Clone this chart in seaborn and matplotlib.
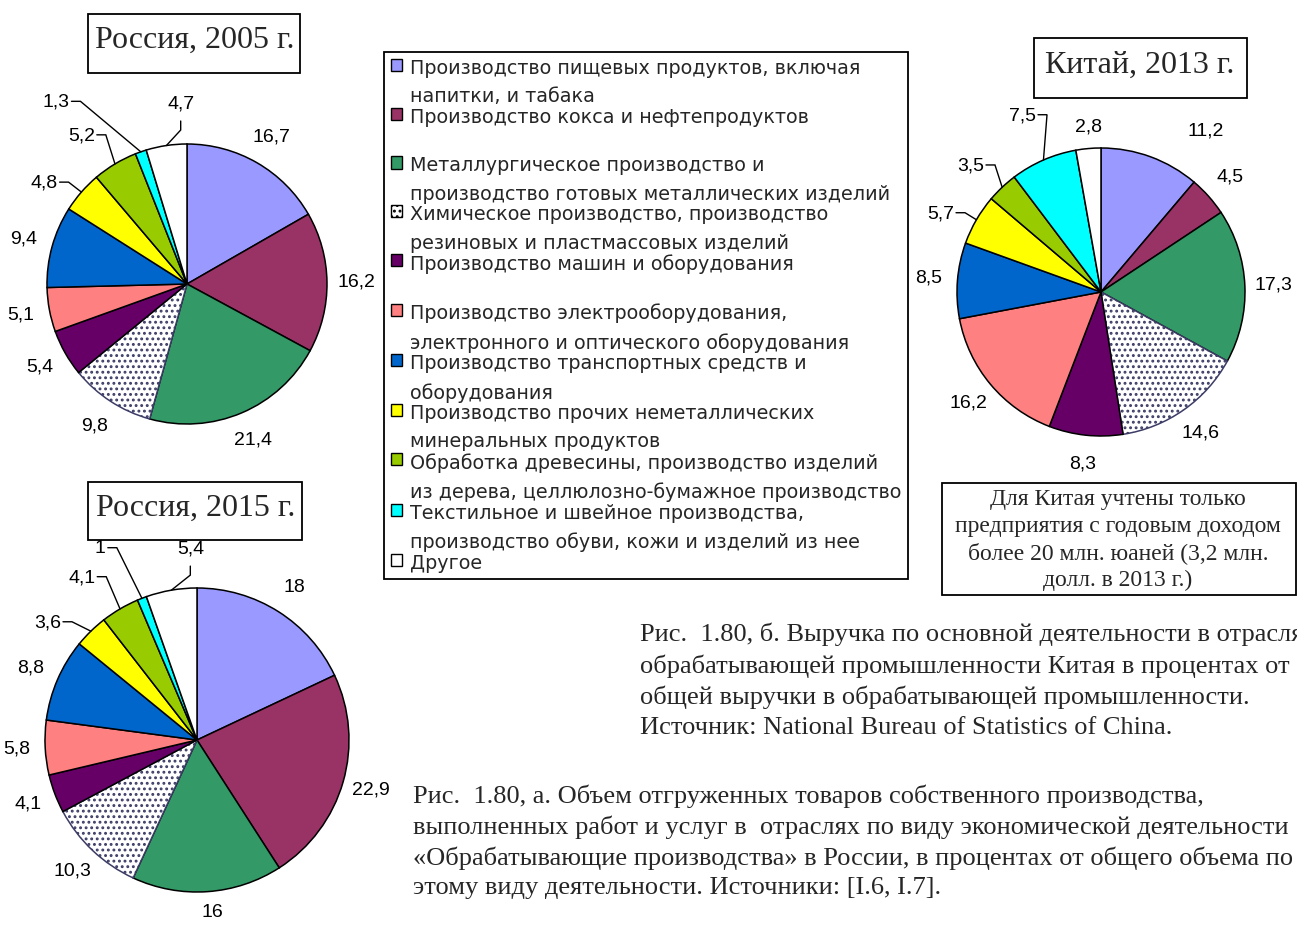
import numpy as np
import matplotlib
matplotlib.use("Agg")
import matplotlib.pyplot as plt
import seaborn as sns
from matplotlib.patches import Rectangle

sns.set_theme(style="white")
plt.rcParams['font.family'] = ['Liberation Sans', 'DejaVu Sans']
plt.rcParams['hatch.linewidth'] = 1.3

# ---------------- data ----------------
categories = [
    "Производство пищевых продуктов, включая\nнапитки, и табака",
    "Производство кокса и нефтепродуктов\n ",
    "Металлургическое производство и\nпроизводство готовых металлических изделий",
    "Химическое производство, производство\nрезиновых и пластмассовых изделий",
    "Производство машин и оборудования\n ",
    "Производство электрооборудования,\nэлектронного и оптического оборудования",
    "Производство транспортных средств и\nоборудования",
    "Производство прочих неметаллических\nминеральных продуктов",
    "Обработка древесины, производство изделий\nиз дерева, целлюлозно-бумажное производство",
    "Текстильное и швейное производства,\nпроизводство обуви, кожи и изделий из нее",
    "Другое",
]
russia_2005 = [16.7, 16.2, 21.4, 9.8, 5.4, 5.1, 9.4, 4.8, 5.2, 1.3, 4.7]
russia_2015 = [18, 22.9, 16, 10.3, 4.1, 5.8, 8.8, 3.6, 4.1, 1, 5.4]
china_2013 = [11.2, 4.5, 17.3, 14.6, 8.3, 16.2, 8.5, 5.7, 3.5, 7.5, 2.8]

titles = ["Россия, 2005 г.", "Россия, 2015 г.", "Китай, 2013 г."]
china_note = ("Для Китая учтены только\nпредприятия с годовым доходом\n"
              "более 20 млн. юаней (3,2 млн.\nдолл. в 2013 г.)")
caption_b = ("Рис.  1.80, б. Выручка по основной деятельности в отраслях\n"
             "обрабатывающей промышленности Китая в процентах от\n"
             "общей выручки в обрабатывающей промышленности.\n"
             "Источник: National Bureau of Statistics of China.")
caption_a = ("Рис.  1.80, а. Объем отгруженных товаров собственного производства,\n"
             "выполненных работ и услуг в  отраслях по виду экономической деятельности\n"
             "«Обрабатывающие производства» в России, в процентах от общего объема по\n"
             "этому виду деятельности. Источники: [I.6, I.7].")

# ---------------- style ----------------
colors = ["#9999FF", "#993366", "#339966", "#FFFFFF", "#660066", "#FF8080",
          "#0066CC", "#FFFF00", "#99CC00", "#00FFFF", "#FFFFFF"]
HATCH_IDX = 3
W, H = 1297, 926
SERIF = ['Liberation Serif', 'DejaVu Serif']

fig = plt.figure(figsize=(W / 100, H / 100), dpi=100)
fig.patch.set_facecolor("white")
renderer = fig.canvas.get_renderer()


def fmt(v):
    return f"{v:g}".replace(".", ",")


def draw_pie(values, cx, cy, r, dist, overrides):
    """cx, cy, r in pixels (y from top). overrides: idx -> (angle, dist, leader)"""
    ax = fig.add_axes([(cx - r) / W, (H - cy - r) / H, 2 * r / W, 2 * r / H])
    wedges, _ = ax.pie(values, colors=colors, startangle=90, counterclock=False,
                       radius=1, wedgeprops=dict(edgecolor="black", linewidth=1.1))
    wedges[HATCH_IDX].set_hatch("...")
    wedges[HATCH_IDX].set_edgecolor("#3c3c66")
    ax.set_xlim(-1, 1)
    ax.set_ylim(-1, 1)
    ax.set_aspect("equal")
    ax.axis("off")
    for i, (w, v) in enumerate(zip(wedges, values)):
        mid = (w.theta1 + w.theta2) / 2
        ang, d, leader = overrides.get(i, (mid, dist, None))
        tx, ty = d * np.cos(np.deg2rad(ang)), d * np.sin(np.deg2rad(ang))
        t = ax.text(tx, ty, fmt(v), ha="center", va="center", fontsize=14,
                    color="black", clip_on=False)
        if leader is None:
            continue
        bb = t.get_window_extent(renderer)
        ex, ey = ax.transData.transform((np.cos(np.deg2rad(mid)), np.sin(np.deg2rad(mid))))
        if leader == "left":
            sx, sy = bb.x1 + 2, (bb.y0 + bb.y1) / 2 + 1
            pts = [(sx, sy), (sx + 9, sy), (ex, ey)]
        else:
            sx, sy = (bb.x0 + bb.x1) / 2, bb.y0 - 9
            pts = [(sx, sy), (sx, sy - 9), (ex, ey)]
        dpts = ax.transData.inverted().transform(pts)
        ax.plot(dpts[:, 0], dpts[:, 1], color="black", lw=1.0, clip_on=False,
                solid_joinstyle="miter")
    return wedges


wedges = draw_pie(russia_2005, 187, 284, 140, 1.21,
                  {7: (144.8, 1.25, "left"), 8: (125.5, 1.30, "left"),
                   9: (125.8, 1.60, "left"), 10: (92.0, 1.29, "top")})
draw_pie(russia_2015, 197, 740, 152, 1.19,
         {2: (-85.0, 1.14, None), 7: (141.9, 1.25, "left"), 8: (125.4, 1.31, "left"),
          9: (116.8, 1.41, "left"), 10: (92.0, 1.26, "top")})
draw_pie(china_2013, 1101, 292, 144, 1.20,
         {0: (57.0, 1.33, None), 7: (154.0, 1.24, "left"), 8: (136.0, 1.26, "left"),
          9: (114.0, 1.34, "left"), 10: (94.5, 1.15, None)})


def box(x0, y0, x1, y1, lw=1.3):
    fig.add_artist(Rectangle((x0 / W, 1 - y1 / H), (x1 - x0) / W, (y1 - y0) / H,
                             transform=fig.transFigure, facecolor="white",
                             edgecolor="black", linewidth=lw, zorder=1))


# title boxes
box(88, 14, 300, 73)
fig.text(195 / W, 1 - 48 / H, titles[0], ha="center", va="baseline", fontsize=23,
         family=SERIF, zorder=2)
box(88, 482, 302, 540)
fig.text(196 / W, 1 - 516 / H, titles[1], ha="center", va="baseline", fontsize=23,
         family=SERIF, zorder=2)
box(1034, 38, 1247, 98)
fig.text(1140 / W, 1 - 73 / H, titles[2], ha="center", va="baseline", fontsize=23,
         family=SERIF, zorder=2)

# China note box
box(942, 483, 1296, 595)
fig.text(1118 / W, 1 - 540 / H, china_note, ha="center", va="center", fontsize=17,
         family=SERIF, linespacing=1.33, zorder=2)

# legend
leg = fig.legend(wedges, categories, loc="upper left",
                 bbox_to_anchor=(384 / W, 1 - 52 / H), borderaxespad=0,
                 prop={"family": ["DejaVu Sans"], "size": 13.8},
                 frameon=True, fancybox=False, edgecolor="black",
                 framealpha=1, borderpad=0.35, handletextpad=0.42,
                 handlelength=0.6, handleheight=0.6, labelspacing=0.08)
leg.get_frame().set_linewidth(1.3)
for t in leg.get_texts():
    t.set_linespacing(1.62)
for h in leg.legend_handles:
    h.set_edgecolor("black")
    h.set_linewidth(1.0)
for col in leg._legend_handle_box.get_children():
    for item in col.get_children():
        item.align = "top"

# captions
fig.text(640 / W, 1 - 623 / H, caption_b, ha="left", va="top", fontsize=19,
         family=SERIF, linespacing=1.43)
fig.text(413 / W, 1 - 784 / H, caption_a, ha="left", va="top", fontsize=19,
         family=SERIF, linespacing=1.42)

fig.savefig("out.png", dpi=100, facecolor="white")
